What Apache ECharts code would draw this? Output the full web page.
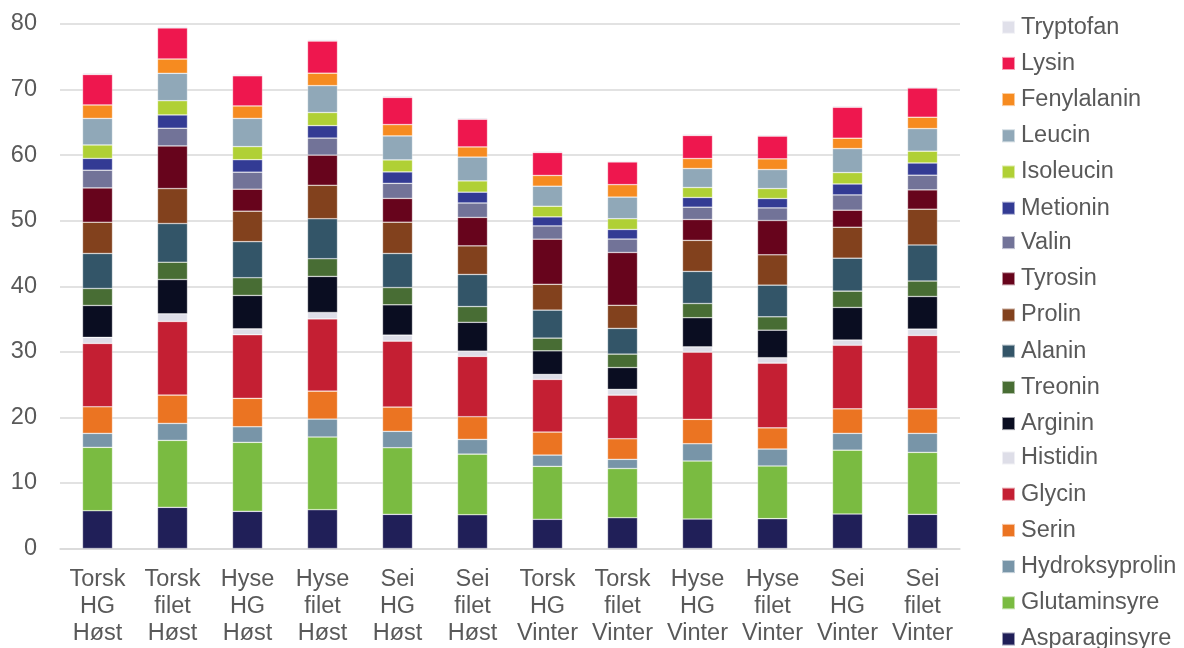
<!DOCTYPE html>
<html>
<head>
<meta charset="utf-8">
<script src="https://cdn.jsdelivr.net/npm/echarts@6/dist/echarts.min.js"></script>
<style>html,body{margin:0;padding:0;background:#fff}#c{width:1184px;height:648px}</style>
</head>
<body>
<div id="c"></div>
<script>
const categories = ["Torsk\nHG\nHøst","Torsk\nfilet\nHøst","Hyse\nHG\nHøst","Hyse\nfilet\nHøst","Sei\nHG\nHøst","Sei\nfilet\nHøst","Torsk\nHG\nVinter","Torsk\nfilet\nVinter","Hyse\nHG\nVinter","Hyse\nfilet\nVinter","Sei\nHG\nVinter","Sei\nfilet\nVinter"];

// stacking order bottom -> top
const seriesNames = ["Asparaginsyre","Glutaminsyre","Hydroksyprolin","Serin","Glycin","Histidin","Arginin","Treonin","Alanin","Prolin","Tyrosin","Valin","Metionin","Isoleucin","Leucin","Fenylalanin","Lysin","Tryptofan"];
const seriesColors = ["#201F58","#7ABB41","#7895A8","#EB7422","#C41F33","#DEDEE8","#0A0D21","#486D34","#335568","#82411D","#67041C","#727398","#333B94","#B0D035","#90A8B8","#F68B20","#EE174E","#E0E0EA"];

const asparaginsyre = [5.76,6.28,5.67,5.92,5.21,5.15,4.45,4.70,4.50,4.55,5.26,5.21];
const glutaminsyre  = [9.67,10.21,10.52,11.08,10.16,9.25,8.08,7.50,8.84,8.03,9.74,9.45];
const hydroksyprolin= [2.13,2.59,2.38,2.74,2.50,2.24,1.72,1.40,2.64,2.59,2.56,2.90];
const serin         = [4.06,4.32,4.33,4.26,3.70,3.46,3.51,3.14,3.72,3.23,3.74,3.74];
const glycin        = [9.66,11.23,9.70,11.03,10.06,9.20,8.03,6.66,10.25,9.88,9.70,11.20];
const histidin      = [0.92,1.17,0.90,0.97,0.92,0.80,0.76,0.87,0.81,0.82,0.80,0.96];
const arginin       = [4.87,5.23,5.10,5.50,4.62,4.40,3.60,3.33,4.44,4.20,4.97,4.98];
const treonin       = [2.59,2.64,2.70,2.70,2.63,2.40,1.94,2.05,2.17,2.04,2.48,2.36];
const alanin        = [5.34,5.90,5.50,6.10,5.20,4.90,4.27,3.92,4.89,4.83,5.03,5.50];
const prolin        = [4.77,5.33,4.65,5.10,4.77,4.36,3.94,3.53,4.74,4.63,4.72,5.45];
const tyrosin       = [5.23,6.50,3.35,4.60,3.63,4.34,6.88,8.05,3.18,5.23,2.60,2.95];
const valin         = [2.70,2.70,2.60,2.60,2.30,2.20,2.02,2.05,1.88,1.92,2.33,2.24];
const metionin      = [1.80,2.03,1.90,1.90,1.74,1.65,1.38,1.46,1.48,1.43,1.67,1.86];
const isoleucin     = [2.05,2.17,2.00,2.00,1.83,1.72,1.62,1.64,1.52,1.52,1.74,1.80];
const leucin        = [4.05,4.18,4.30,4.10,3.66,3.63,3.06,3.30,2.90,2.90,3.66,3.45];
const fenylalanin   = [2.05,2.18,1.90,1.90,1.73,1.55,1.64,1.90,1.52,1.63,1.58,1.73];
const lysin         = [4.65,4.74,4.60,4.90,4.14,4.22,3.50,3.46,3.52,3.47,4.72,4.46];
const tryptofan     = [0.22,0.22,0.22,0.22,0.22,0.22,0.20,0.17,0.20,0.20,0.20,0.20];

const yTicks = [0,10,20,30,40,50,60,70,80];

const dataArrays = [asparaginsyre,glutaminsyre,hydroksyprolin,serin,glycin,histidin,arginin,treonin,alanin,prolin,tyrosin,valin,metionin,isoleucin,leucin,fenylalanin,lysin,tryptofan];

const FONT = "'Liberation Sans', Arial, sans-serif";
const FS = 23.5;
const legendNames = seriesNames.slice().reverse();
const ROW = 35.9;
const legendBase = {
  orient: 'vertical',
  left: 1001,
  padding: 0,
  height: 300,
  icon: 'rect',
  itemWidth: 13, itemHeight: 13,
  itemGap: 12.2,
  textStyle: {fontFamily: FONT, fontSize: FS, color: '#595959', padding: [0,0,0,1]}
};
const legends = [];
for (let g = 0; g < 3; g++) {
  legends.push(Object.assign({}, legendBase, {top: 15.2 + g * 6 * ROW, data: legendNames.slice(g * 6, g * 6 + 6)}));
}
const chart = echarts.init(document.getElementById('c'));
chart.setOption({
  animation: false,
  textStyle: {fontFamily: FONT},
  grid: {left: 60, right: 224, top: 24, bottom: 99.5, containLabel: false},
  legend: legends,
  xAxis: {
    type: 'category',
    data: categories,
    axisLine: {show: true, lineStyle: {color: '#d9d9d9', width: 1.5}},
    axisTick: {show: false},
    axisLabel: {fontFamily: FONT, fontSize: FS, color: '#595959', lineHeight: 27, margin: 18, interval: 0}
  },
  yAxis: {
    type: 'value',
    min: yTicks[0], max: yTicks[yTicks.length-1], interval: 10,
    axisLine: {show: false},
    axisTick: {show: false},
    splitLine: {lineStyle: {color: '#d9d9d9', width: 1.5}},
    axisLabel: {fontFamily: FONT, fontSize: FS, color: '#595959', margin: 23}
  },
  series: seriesNames.map((n, i) => ({
    name: n,
    type: 'bar',
    stack: 'total',
    barWidth: 30,
    data: dataArrays[i],
    itemStyle: {color: seriesColors[i], borderColor: 'rgba(255,255,255,0.55)', borderWidth: 0.6}
  }))
});
</script>
</body>
</html>
